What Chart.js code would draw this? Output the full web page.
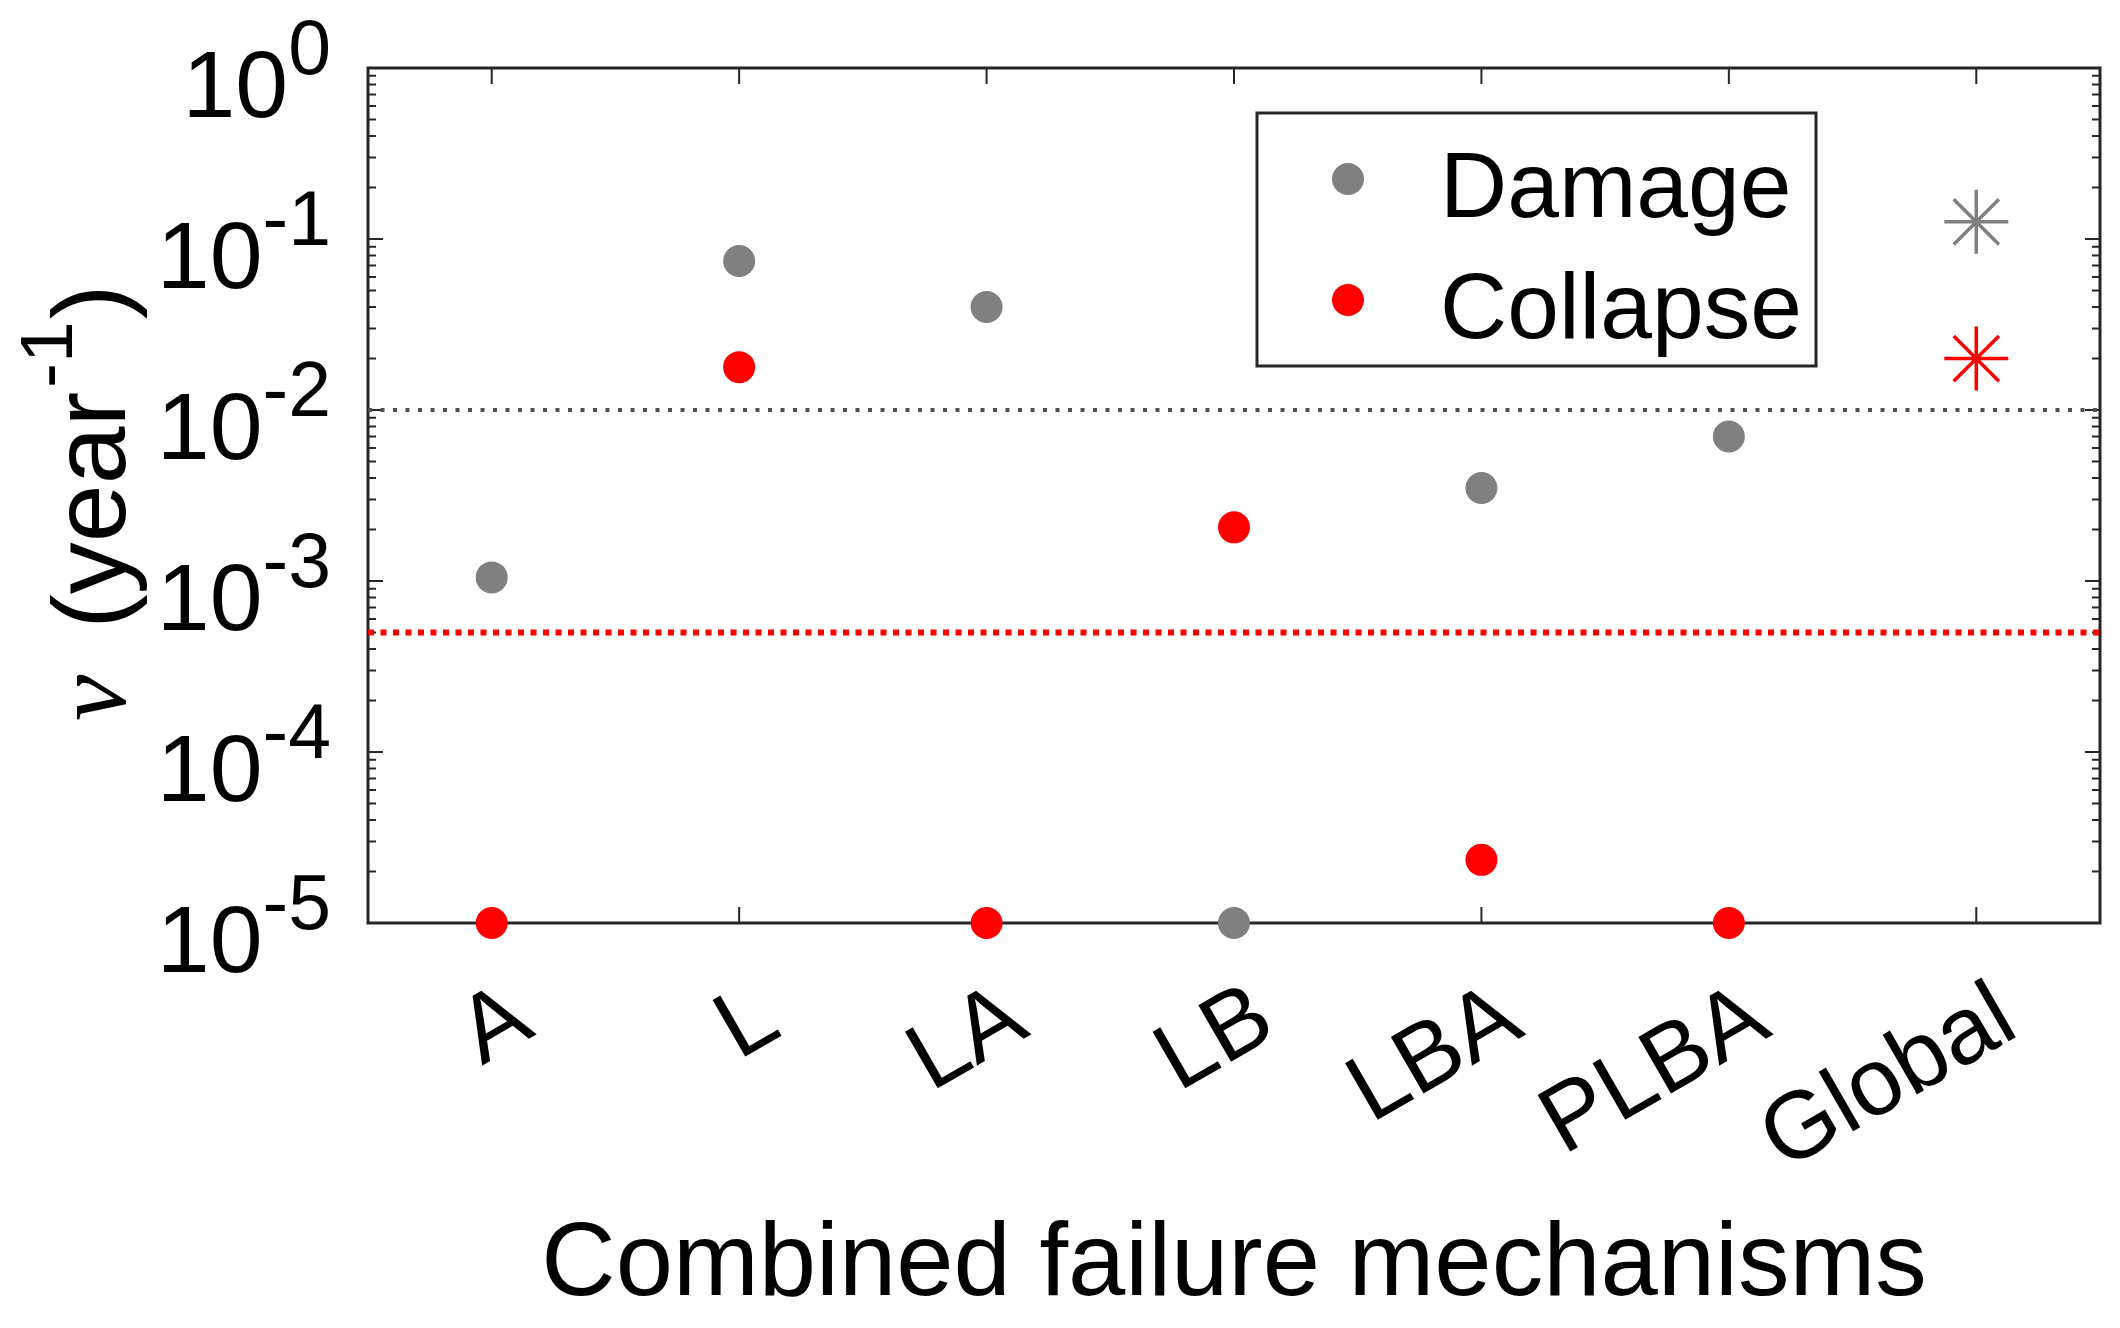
<!DOCTYPE html>
<html>
<head>
<meta charset="utf-8">
<script src="https://cdn.jsdelivr.net/npm/chart.js@4.4.1/dist/chart.umd.min.js"></script>
<style>
  html, body { margin: 0; padding: 0; background: #fff; }
  #wrap { width: 2120px; height: 1328px; }
</style>
</head>
<body>
<div id="wrap"><canvas id="chart" width="2120" height="1328"></canvas></div>
<script>
// Data
const categories = ['A', 'L', 'LA', 'LB', 'LBA', 'PLBA', 'Global'];
const damageRate = [1.05e-3, 0.0743, 0.040, 1e-5, 3.5e-3, 7.0e-3, 0.126];
const collapseRate = [1e-5, 0.0178, 1e-5, 2.06e-3, 2.34e-5, 1e-5, 0.020];
const damageLimit = 1e-2;
const collapseLimit = 5e-4;
const yTickExponents = [-5, -4, -3, -2, -1, 0];

const AXIS_COLOR = '#262626';
const SANS = '"Liberation Sans", Arial, sans-serif';

Chart.defaults.font.family = SANS;
Chart.defaults.color = '#000';

// points: circles, except the Global column which uses an asterisk
const styleFor = ctx => categories[ctx.dataIndex] === 'Global' ? 'star' : 'circle';
const radiusFor = ctx => categories[ctx.dataIndex] === 'Global' ? 32 : 15;
const borderFor = ctx => categories[ctx.dataIndex] === 'Global' ? 3.5 : 2;

function toPoints(values) {
    return values.map((v, i) => ({ x: i + 1, y: v }));
}

// MATLAB-like box, inward ticks, tick labels with exponents, y title, legend
const matlabAxes = {
    id: 'matlabAxes',
    beforeDatasetsDraw(chart) {
        const { ctx, chartArea: a, scales: { x, y } } = chart;
        ctx.save();
        ctx.strokeStyle = AXIS_COLOR;
        ctx.lineWidth = 3;
        ctx.strokeRect(a.left, a.top, a.right - a.left, a.bottom - a.top);

        ctx.lineWidth = 2;
        ctx.beginPath();
        // x ticks, top and bottom
        categories.forEach((c, i) => {
            const px = x.getPixelForValue(i + 1);
            ctx.moveTo(px, a.bottom); ctx.lineTo(px, a.bottom - 16);
            ctx.moveTo(px, a.top); ctx.lineTo(px, a.top + 16);
        });
        // y ticks, major and minor, left and right
        yTickExponents.forEach(e => {
            for (let m = 1; m <= 9; m++) {
                const v = m * Math.pow(10, e);
                if (v > 1.0000001) break;
                const py = y.getPixelForValue(v);
                const len = m === 1 ? 15 : 8;
                ctx.moveTo(a.left, py); ctx.lineTo(a.left + len, py);
                ctx.moveTo(a.right, py); ctx.lineTo(a.right - len, py);
            }
        });
        ctx.stroke();
        ctx.restore();
    },
    afterDraw(chart) {
        const { ctx, chartArea: a, scales: { y } } = chart;
        ctx.save();
        ctx.fillStyle = '#000';

        // y tick labels 10^e
        yTickExponents.forEach(e => {
            const py = y.getPixelForValue(Math.pow(10, e));
            const xr = a.left - 37;
            ctx.textAlign = 'right';
            ctx.textBaseline = 'alphabetic';
            ctx.font = '77px ' + SANS;
            const exp = String(e);
            const ew = ctx.measureText(exp).width;
            ctx.fillText(exp, xr, py + 6);
            ctx.font = '95px ' + SANS;
            ctx.fillText('10', xr - ew, py + 49);
        });

        // y axis title: nu (year^-1)
        ctx.translate(125, 721);
        ctx.rotate(-Math.PI / 2);
        ctx.textAlign = 'left';
        ctx.textBaseline = 'alphabetic';
        let u = 0;
        ctx.font = 'italic 104px "Liberation Serif", "DejaVu Serif", serif';
        ctx.fillText('\u03bd', u, 0);
        u += ctx.measureText('\u03bd').width + 46;
        ctx.font = '104px ' + SANS;
        ctx.fillText('(year', u, 0);
        u += ctx.measureText('(year').width + 4;
        ctx.font = '75px ' + SANS;
        ctx.fillText('-1', u, -53);
        u += ctx.measureText('-1').width + 2;
        ctx.font = '104px ' + SANS;
        ctx.fillText(')', u, 0);
        ctx.setTransform(1, 0, 0, 1, 0, 0);

        // legend box
        const box = { left: 1257, top: 113, right: 1816, bottom: 366 };
        ctx.fillStyle = '#fff';
        ctx.fillRect(box.left, box.top, box.right - box.left, box.bottom - box.top);
        ctx.strokeStyle = AXIS_COLOR;
        ctx.lineWidth = 3;
        ctx.strokeRect(box.left, box.top, box.right - box.left, box.bottom - box.top);
        const rows = [179, 300];
        chart.data.datasets.filter(d => d.inLegend).forEach((d, i) => {
            ctx.fillStyle = d.backgroundColor;
            ctx.beginPath();
            ctx.arc(1348, rows[i], 16, 0, Math.PI * 2);
            ctx.fill();
            ctx.fillStyle = '#000';
            ctx.font = '93px ' + SANS;
            ctx.textAlign = 'left';
            ctx.textBaseline = 'alphabetic';
            ctx.fillText(d.label, 1440, rows[i] + 38);
        });
        ctx.restore();
    }
};

new Chart(document.getElementById('chart'), {
    type: 'scatter',
    data: {
        datasets: [
            {
                label: 'Damage',
                inLegend: true,
                data: toPoints(damageRate),
                backgroundColor: '#808080',
                borderColor: '#808080',
                pointStyle: styleFor,
                pointRadius: radiusFor,
                pointBorderWidth: borderFor,
                clip: false,
                order: 1
            },
            {
                label: 'Collapse',
                inLegend: true,
                data: toPoints(collapseRate),
                backgroundColor: '#ff0000',
                borderColor: '#ff0000',
                pointStyle: styleFor,
                pointRadius: radiusFor,
                pointBorderWidth: borderFor,
                clip: false,
                order: 1
            },
            {
                label: 'Damage limit',
                type: 'line',
                data: [{ x: 0.5, y: damageLimit }, { x: 7.5, y: damageLimit }],
                borderColor: '#505050',
                borderWidth: 4,
                borderDash: [4, 8.5],
                pointRadius: 0,
                order: 2
            },
            {
                label: 'Collapse limit',
                type: 'line',
                data: [{ x: 0.5, y: collapseLimit }, { x: 7.5, y: collapseLimit }],
                borderColor: '#ff0000',
                borderWidth: 6,
                borderDash: [6, 6.5],
                pointRadius: 0,
                order: 2
            }
        ]
    },
    options: {
        responsive: false,
        animation: false,
        devicePixelRatio: 1,
        layout: { autoPadding: false, padding: { top: 68, right: 20, bottom: 0, left: 0 } },
        plugins: { legend: { display: false }, tooltip: { enabled: false } },
        scales: {
            x: {
                type: 'linear',
                min: 0.5,
                max: 7.5,
                afterBuildTicks: s => { s.ticks = categories.map((c, i) => ({ value: i + 1 })); },
                afterFit: s => {
                    s.height = 405;
                    s.paddingLeft = 0;
                    s.paddingRight = 0;
                },
                ticks: {
                    callback: (v, i) => categories[i],
                    font: { size: 95 },
                    color: '#000',
                    minRotation: 30,
                    maxRotation: 30,
                    autoSkip: false,
                    labelOffset: 32,
                    padding: 39
                },
                grid: { display: false, drawTicks: false },
                border: { display: false },
                title: {
                    display: true,
                    text: 'Combined failure mechanisms',
                    font: { size: 103 },
                    color: '#000',
                    padding: { top: 0, bottom: 0 }
                }
            },
            y: {
                type: 'logarithmic',
                min: 1e-5,
                max: 1,
                afterFit: s => { s.width = 368; },
                ticks: { display: false },
                grid: { display: false },
                border: { display: false }
            }
        }
    },
    plugins: [matlabAxes]
});
</script>
</body>
</html>
